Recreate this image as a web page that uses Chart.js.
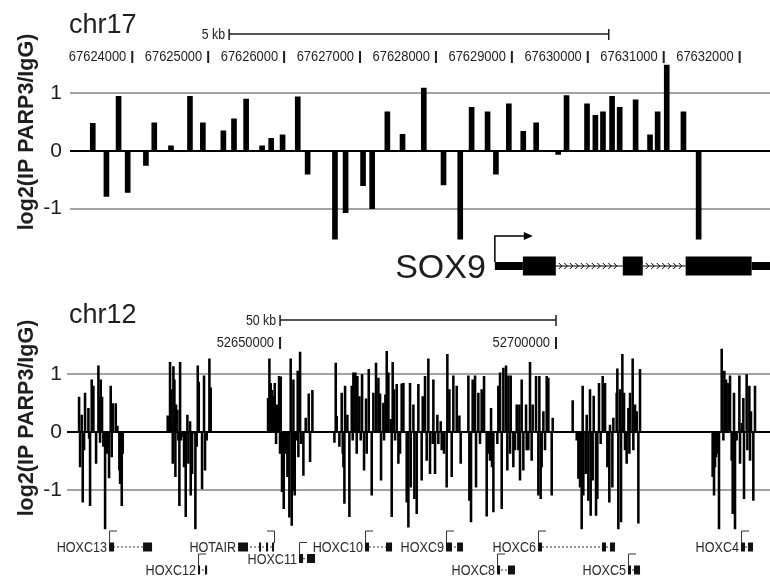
<!DOCTYPE html>
<html>
<head>
<meta charset="utf-8">
<script src="https://cdn.jsdelivr.net/npm/chart.js@4.4.1/dist/chart.umd.min.js"></script>
<style>
  html, body { margin: 0; padding: 0; background: #fff; }
  #wrap { position: relative; width: 770px; height: 582px; }
  canvas { position: absolute; left: 0; }
  #top { top: 0; }
  #bottom { top: 290px; }
</style>
</head>
<body>
<div id="wrap">
  <canvas id="top" width="770" height="290"></canvas>
  <canvas id="bottom" width="770" height="292"></canvas>
</div>
<script>
const FONT = '"Liberation Sans", Arial, Helvetica, sans-serif';
const INK = '#1e1e1e';
const yTicks = [-1, 0, 1];
const yTitleText = 'log2(IP PARP3/IgG)';

// chr17 track (SOX9)
const chr17Pos = [67623480, 67623660, 67623820, 67623940, 67624180, 67624290, 67624510, 67624760, 67624930,
  67625200, 67625340, 67625500, 67625710, 67625830, 67625980, 67626180, 67626310, 67626670, 67626810,
  67627040, 67627160, 67627360, 67627560, 67627840, 67628100, 67628320, 67628470, 67628680, 67628790,
  67628960, 67629150, 67629320, 67629610, 67629720, 67629990, 67630100, 67630200, 67630320, 67630420,
  67630630, 67630820, 67630920, 67631040, 67631260, 67631460];
const chr17Val = [0.48, -0.79, 0.95, -0.72, -0.25, 0.49, 0.09, 0.95, 0.49,
  0.35, 0.56, 0.90, 0.09, 0.22, 0.28, 0.94, -0.40, -1.53, -1.07,
  -0.60, -1.00, 0.68, 0.29, 1.09, -0.59, -1.53, 0.76, 0.68, -0.40,
  0.82, 0.34, 0.49, -0.06, 0.96, 0.82, 0.62, 0.68, 0.95, 0.76,
  0.89, 0.28, 0.68, 1.49, 0.68, -1.53];
const chr17Ticks = [67624000, 67625000, 67626000, 67627000, 67628000, 67629000, 67630000, 67631000, 67632000];
const chr17Scale = [67625276, 67630276];
const sox9Tss = 67628776;
const sox9ArrowEnd = 67629276;
const sox9Utr = [[67628776, 67629145], [67632158, 67632600]];
const sox9Cds = [[67629145, 67629579], [67630461, 67630724], [67631289, 67632158]];

// chr12 track (HOXC cluster)
const chr12Pos = [
  52613590, 52613770, 52614070, 52614250, 52614490, 52614670, 52615280, 52615400, 52615580, 52615880,
  52616180, 52616670, 52617090, 52617270, 52617390, 52617510, 52617750, 52617990, 52618300, 52618600,
  52619020, 52619320, 52619500, 52619690, 52620230, 52620530, 52620890, 52621020, 52621320, 52621500,

  52629650, 52629830, 52630070, 52630310, 52630560, 52630680, 52630860, 52631040, 52631160, 52631400,
  52631580, 52631760, 52631890, 52632070, 52632370, 52632610, 52632910, 52633210, 52633390, 52633700,
  52633820, 52634060, 52634420, 52634660, 52634900, 52635090, 52635270, 52635870, 52636230, 52636410,
  52636720, 52637200, 52637440,

  52647830, 52647950, 52648070, 52648310, 52648550, 52648790, 52649040, 52649280, 52649400, 52649820,
  52650000, 52650120, 52650360, 52650670, 52651090, 52651330, 52651690, 52651930, 52652120, 52652300,
  52652420, 52652660, 52653020, 52653200, 52653320, 52653630, 52653810, 52654230, 52654650, 52655200,
  52655440, 52655860,

  52659850, 52660090, 52660270, 52660750, 52661170, 52661360, 52661480, 52661660, 52661780, 52662200,
  52662560, 52662990, 52663170, 52663290, 52663650, 52663890, 52664010, 52664380, 52664620, 52664860,
  52665220, 52665580, 52665700, 52666070, 52666610, 52666910, 52667390, 52667820, 52668120, 52668300,
  52668720, 52668840, 52669090, 52669330, 52669630, 52670050, 52670230, 52670410, 52670660, 52670840,
  52671140, 52671440, 52671740, 52672040, 52672350, 52672950, 52673250, 52673550, 52673680, 52674160,
  52674340, 52674760, 52675060,
  52675660, 52675850, 52676270, 52676570, 52676870, 52677170, 52677660, 52677780, 52678080, 52678500,
  52678680, 52679110, 52679290, 52679710, 52680190, 52680310, 52680680, 52681100, 52681400, 52682010,
  52682490, 52682730, 52684120, 52684300, 52684600, 52684900, 52685330, 52685510, 52685930, 52686230,
  52686530, 52686960, 52687440, 52687740, 52688040, 52688230, 52688410, 52688650, 52689370, 52689550,
  52689860, 52690160, 52690460, 52690940, 52691180, 52691370, 52691670, 52691790, 52692270, 52692570,
  52692880, 52693180, 52693360, 52693480, 52693780, 52694080, 52694570, 52694690, 52694990, 52695290,
  52695590, 52695770, 52696380, 52696800, 52696980, 52697220, 52697400, 52697710, 52698010, 52698310,
  52698610, 52699220, 52699400,

  52703020, 52703750, 52704050, 52704350, 52704650, 52704830, 52704950, 52705380, 52705560, 52705860,
  52706160, 52706280, 52706640, 52706830, 52707250, 52707490, 52707790, 52708090, 52708460, 52708880,
  52709300, 52709660, 52709780, 52710210, 52710390, 52710990, 52711110, 52711290, 52711600, 52711780,
  52712020, 52712320, 52712500, 52712800, 52713110, 52713290, 52713410, 52713890, 52714010, 52714310,
  52714620, 52714920, 52715220,

  52728380, 52728630, 52728810, 52728990, 52729290, 52729530, 52730020, 52730320, 52730500, 52730800,
  52731220, 52731530, 52731830, 52732010, 52732250, 52732430, 52732730, 52733220, 52733340, 52733640,
  52733940, 52734060, 52734540, 52734670, 52735030, 52735150, 52735330, 52735750, 52736050];
const chr12Val = [
  0.60, -0.60, 0.29, -1.21, -0.31, 0.67, 0.41, -0.11, -1.27, 0.90,
  0.79, -0.54, 1.14, 0.60, -0.18, 0.90, 0.60, -0.25, -1.67, -0.37,
  -0.79, 0.79, -0.43, 0.49, 0.49, 0.10, -0.66, -0.89, -1.27, -0.37,

  0.28, 0.12, 1.20, 0.73, -0.54, 1.13, 0.90, -0.77, 0.47, 0.38,
  -0.14, -1.27, 1.20, -0.14, -0.08, -0.60, -1.46, 0.29, -0.54, 0.18,
  -1.09, -0.72, -0.02, -1.67, -0.25, 1.14, 0.86, -0.98, 0.97, -0.66,
  -0.14, 1.26, 0.76,

  0.58, 0.35, 1.26, 0.84, 0.72, 0.62, 0.84, -0.20, 0.47, 0.96,
  -0.37, 0.95, -1.03, -1.32, -0.37, -0.77, -1.47, 1.26, -1.61, -1.01,
  0.90, -1.09, -0.14, 1.05, -0.43, 1.38, -0.20, -0.75, 0.24, 0.66,
  -0.51, 0.72,

  -0.18, 1.19, 0.27, -0.25, 0.67, -0.37, -0.60, -1.23, 0.79, 0.29,
  -1.46, 0.79, -0.14, 1.02, 1.02, -0.37, 0.96, 0.61, -0.14, 0.99,
  -0.66, 0.57, -0.37, 1.08, -1.09, 0.67, 1.19, 0.93, 0.66, -0.83,
  0.50, -0.14, 0.64, 1.39, 1.02, 0.22, -1.46, 1.20, 0.73, -0.14,
  0.82, -0.54, -0.37, 0.83, 0.84, -1.21, -1.64, 0.84, -0.95, 0.47,
  -1.15, -1.41, 0.82,
  -0.83, 0.61, 0.96, -0.49, 1.26, -0.72, -0.20, 0.90, -0.72, 0.29,
  -0.20, 0.18, -0.31, -0.37, -0.95, 1.34, 0.73, -0.77, 0.97, 0.79,
  0.28, -0.54, 0.97, -1.18, -1.55, 0.90, 0.97, -0.95, 0.67, -0.20,
  0.73, 0.96, -1.45, -0.37, -0.49, 0.41, -0.60, -1.38, -0.20, 0.79,
  1.02, -1.32, 1.10, 1.14, -0.66, 0.97, -0.37, 0.97, -0.60, -0.31,
  0.47, -0.31, 0.47, -0.83, 0.90, -0.66, 0.47, -0.31, -0.31, 1.20,
  -0.49, 0.47, 0.96, -1.09, 0.96, -1.15, -0.60, 0.35, -0.31, 0.96,
  0.93, -1.09, 0.24,

  0.54, -0.14, -0.80, -0.95, -1.67, 0.79, -1.09, -0.72, 0.29, -1.18,
  0.73, -1.44, -0.83, 0.62, -1.44, -1.15, 0.84, -0.20, 0.96, 0.84,
  -0.60, -1.21, 0.12, -0.95, 0.24, 0.67, 1.09, -1.67, 0.73, -1.55,
  1.34, 0.67, -0.31, -0.54, 0.41, -0.37, 0.67, 1.26, -0.31, 0.47,
  0.35, -1.57, 1.08,

  -0.77, -1.09, -0.60, -0.43, -0.37, -1.67, 1.43, -0.14, 1.05, 0.90,
  0.84, 0.97, -0.49, -1.41, 0.67, -1.67, -0.14, 0.97, -0.54, 0.15,
  0.58, -1.15, 0.99, -0.31, 0.79, -0.49, 0.35, -1.18, 0.79];
const chr12Ticks = [52650000, 52700000];
const chr12Scale = [52650000, 52700000];

const hoxNames = ['HOXC13', 'HOXC12', 'HOTAIR', 'HOXC11', 'HOXC10', 'HOXC9', 'HOXC8', 'HOXC6', 'HOXC5', 'HOXC4'];
const hoxStrand = ['+', '+', '-', '+', '+', '+', '+', '+', '+', '+'];
const hoxLane = [0, 1, 0, 0.5, 0, 0, 1, 0, 1, 0];
const hoxExons = [
  [[52619020, 52619930], [52625180, 52626810]],
  [[52635140, 52635510], [52636410, 52636780]],
  [[52642390, 52644200], [52646200, 52646560], [52647460, 52647830], [52648550, 52648910]],
  [[52653440, 52654170], [52654890, 52656340]],
  [[52665400, 52666120], [52669200, 52670290]],
  [[52680070, 52681160], [52682070, 52683150]],
  [[52689310, 52689860], [52691300, 52692570]],
  [[52696740, 52697460], [52708330, 52709060], [52709780, 52710690]],
  [[52713040, 52713590], [52714130, 52715220]],
  [[52733520, 52734240], [52734780, 52735690]]
];

// right-aligned text, squeezed horizontally like the figure's narrow type
function narrowText(ctx, text, right, baseline, size, squeeze) {
  ctx.save();
  ctx.translate(right, baseline);
  ctx.scale(squeeze, 1);
  ctx.font = size + 'px ' + FONT;
  ctx.textAlign = 'right';
  ctx.fillText(text, 0, 0);
  ctx.restore();
}

function scaleBar(ctx, x, range, label, y) {
  const a = x.getPixelForValue(range[0]), b = x.getPixelForValue(range[1]);
  ctx.lineWidth = 1.5;
  ctx.beginPath();
  ctx.moveTo(a, y); ctx.lineTo(b, y);
  ctx.moveTo(a, y - 5); ctx.lineTo(a, y + 6);
  ctx.moveTo(b, y - 5); ctx.lineTo(b, y + 6);
  ctx.stroke();
  narrowText(ctx, label, a - 4, y + 5, 14, 0.88);
}

function coordTicks(ctx, x, ticks, baseline, tickTop) {
  ticks.forEach(t => {
    const px = x.getPixelForValue(t);
    narrowText(ctx, String(t), px - 6, baseline, 15, 0.86);
    ctx.fillRect(px - 1, tickTop, 2, 12);
  });
}

function yTitle(ctx, cy) {
  ctx.save();
  ctx.translate(27, cy);
  ctx.rotate(-Math.PI / 2);
  ctx.font = 'bold 21.5px ' + FONT;
  ctx.textAlign = 'center';
  ctx.textBaseline = 'middle';
  ctx.fillText(yTitleText, 0, 0);
  ctx.restore();
}

function drawChr17(chart) {
  const ctx = chart.ctx, x = chart.scales.x;
  ctx.save();
  ctx.fillStyle = INK; ctx.strokeStyle = INK;
  ctx.font = '27px ' + FONT;
  ctx.textAlign = 'left';
  ctx.fillText('chr17', 69, 33);
  scaleBar(ctx, x, chr17Scale, '5 kb', 34);
  coordTicks(ctx, x, chr17Ticks, 61, 51);
  yTitle(ctx, 132);

  // SOX9 gene model
  const gy = 266;
  const tss = x.getPixelForValue(sox9Tss);
  ctx.fillStyle = '#000'; ctx.strokeStyle = '#000';
  sox9Utr.forEach(e => {
    const a = x.getPixelForValue(e[0]), b = x.getPixelForValue(e[1]);
    ctx.fillRect(a, gy - 4, b - a, 8);
  });
  sox9Cds.forEach(e => {
    const a = x.getPixelForValue(e[0]), b = x.getPixelForValue(e[1]);
    ctx.fillRect(a, gy - 9.5, b - a, 19);
  });
  ctx.lineWidth = 1;
  for (let i = 0; i < sox9Cds.length - 1; i++) {
    const a = x.getPixelForValue(sox9Cds[i][1]), b = x.getPixelForValue(sox9Cds[i + 1][0]);
    ctx.beginPath(); ctx.moveTo(a, gy); ctx.lineTo(b, gy); ctx.stroke();
    ctx.beginPath();
    for (let cx = a + 5; cx < b - 2; cx += 5.5) {
      ctx.moveTo(cx - 2, gy - 3); ctx.lineTo(cx + 1, gy); ctx.lineTo(cx - 2, gy + 3);
    }
    ctx.stroke();
  }
  const tip = x.getPixelForValue(sox9ArrowEnd);
  ctx.lineWidth = 1.5;
  ctx.beginPath();
  ctx.moveTo(tss, gy - 4); ctx.lineTo(tss, 236); ctx.lineTo(tip - 7, 236);
  ctx.stroke();
  ctx.beginPath();
  ctx.moveTo(tip, 236); ctx.lineTo(tip - 9, 232); ctx.lineTo(tip - 9, 240); ctx.closePath();
  ctx.fill();
  ctx.fillStyle = INK;
  ctx.font = '34px ' + FONT;
  ctx.textAlign = 'right';
  ctx.fillText('SOX9', tss - 9, 278);
  ctx.restore();
}

function drawChr12(chart) {
  const ctx = chart.ctx, x = chart.scales.x;
  ctx.save();
  ctx.fillStyle = INK; ctx.strokeStyle = INK;
  ctx.font = '27px ' + FONT;
  ctx.textAlign = 'left';
  ctx.fillText('chr12', 69, 33);
  scaleBar(ctx, x, chr12Scale, '50 kb', 30);
  coordTicks(ctx, x, chr12Ticks, 57, 47);
  yTitle(ctx, 128);

  // HOXC gene models
  hoxNames.forEach((name, g) => {
    const exons = hoxExons[g];
    const cy = 257 + hoxLane[g] * 23;
    const left = x.getPixelForValue(exons[0][0]);
    const right = x.getPixelForValue(exons[exons.length - 1][1]);
    ctx.strokeStyle = '#777';
    ctx.lineWidth = 1.5;
    ctx.setLineDash([2, 2]);
    ctx.beginPath(); ctx.moveTo(left, cy); ctx.lineTo(right, cy); ctx.stroke();
    ctx.setLineDash([]);
    ctx.fillStyle = '#111';
    exons.forEach(e => {
      const a = x.getPixelForValue(e[0]), b = x.getPixelForValue(e[1]);
      ctx.fillRect(a, cy - 4.5, Math.max(b - a, 2), 9);
    });
    const plus = hoxStrand[g] === '+';
    const tss = plus ? left : right;
    ctx.strokeStyle = '#333';
    ctx.lineWidth = 1;
    ctx.beginPath();
    ctx.moveTo(tss + 0.5, cy - 4); ctx.lineTo(tss + 0.5, cy - 16); ctx.lineTo(tss + (plus ? 8 : -7), cy - 16);
    ctx.stroke();
    ctx.fillStyle = '#2a2a2a';
    narrowText(ctx, name, left - 2, cy + 5, 14, 0.9);
  });
  ctx.restore();
}

function track(id, pos, val, o) {
  return new Chart(document.getElementById(id), {
    type: 'bar',
    data: {
      datasets: [{
        data: pos.map((p, i) => ({ x: p, y: val[i] })),
        backgroundColor: '#000',
        borderWidth: 0,
        barThickness: o.bar
      }]
    },
    options: {
      responsive: false,
      animation: false,
      devicePixelRatio: 1,
      layout: { padding: { top: o.top, bottom: o.bottom, left: 0, right: 0 } },
      plugins: { legend: { display: false }, tooltip: { enabled: false } },
      scales: {
        x: { type: 'linear', min: o.xmin, max: o.xmax, display: false, offset: false },
        y: {
          min: o.ymin,
          max: o.ymax,
          afterFit: s => { s.width = o.left; },
          afterBuildTicks: s => { s.ticks = yTicks.map(v => ({ value: v })); },
          ticks: { font: { family: FONT, size: 21 }, color: INK, padding: o.pad, callback: v => String(v) },
          grid: {
            drawTicks: false,
            lineWidth: 2,
            color: c => (c.tick && c.tick.value === 0 ? '#000' : '#a3a3a3')
          },
          border: { display: false }
        }
      }
    },
    plugins: [{ id: id + 'Decor', afterDraw: o.decor }]
  });
}

track('top', chr17Pos, chr17Val, {
  xmin: 67623180, xmax: 67632400, ymin: -1.55, ymax: 1.55,
  top: 61.7, bottom: 49.7, left: 70, pad: 8, bar: 5, decor: drawChr17
});

track('bottom', chr12Pos, chr12Val, {
  xmin: 52611400, xmax: 52738770, ymin: -1.7, ymax: 1.45,
  top: 57.9, bottom: 51.4, left: 67, pad: 5, bar: 1.9, decor: drawChr12
});
</script>
</body>
</html>
